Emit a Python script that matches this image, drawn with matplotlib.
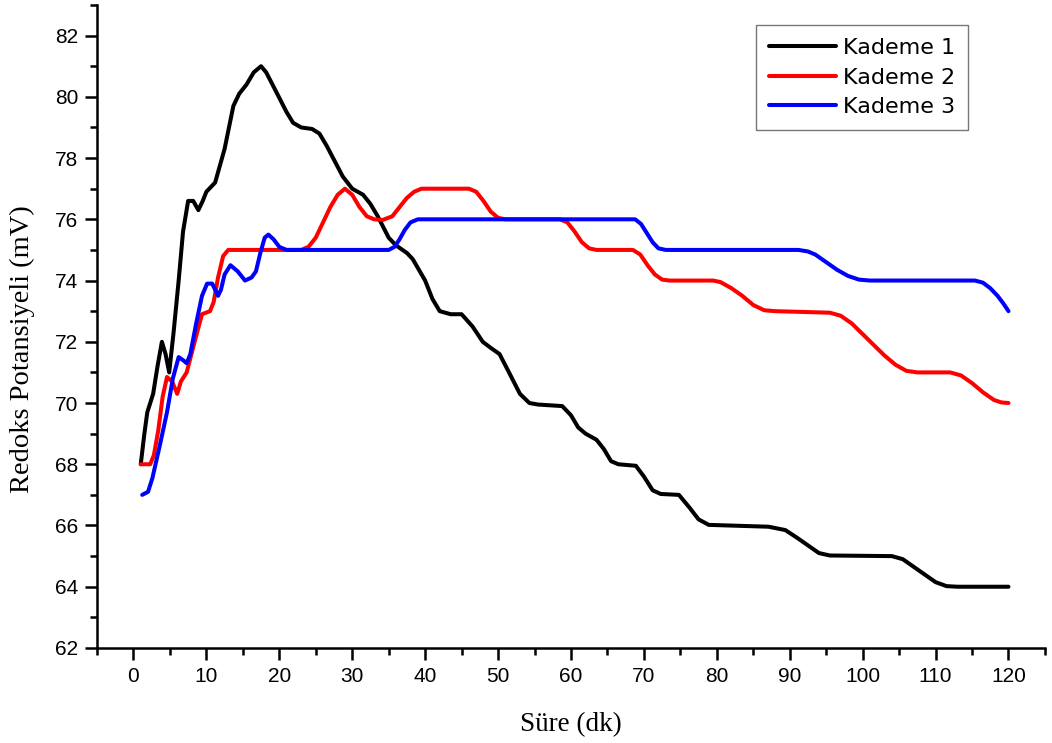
import matplotlib
matplotlib.use('Agg')
import matplotlib.pyplot as plt
from matplotlib.ticker import MultipleLocator

# Kademe 1 (black)
t1 = [1, 1.5, 1.9, 2.7, 3.3, 3.9, 4.4, 4.9, 5.5, 6.2, 6.8, 7.5, 8.2, 8.9, 9.5, 10, 11.2, 12.5, 13.7, 14.5,
      15.5, 16.5, 17.5, 18.2, 19.5, 21, 21.9, 23, 24.5, 25.5, 26.5, 28.7, 30, 31.5, 32.5, 33.5, 35, 36,
      37.5, 38.3, 40, 41, 42, 43.5, 45, 46.5, 47.9, 49, 50.2, 51.5, 53, 54.3, 55.5, 58.8, 60, 61, 62,
      63.5, 64.5, 65.5, 66.5, 68.9, 70, 71.2, 72.3, 74.8, 76.2, 77.5, 78.9, 87.1, 89.4, 91, 92.5, 94,
      95.5, 104, 105.5, 107, 108.5, 110, 111.5, 113, 120]
y1 = [68.0, 69.0, 69.7, 70.3, 71.2, 72.0, 71.6, 71.0, 72.3, 74.0, 75.6, 76.6, 76.6, 76.3, 76.6, 76.9, 77.2,
      78.3, 79.7, 80.1, 80.4, 80.8, 81.0, 80.8, 80.2, 79.5, 79.15, 79.0, 78.95, 78.8, 78.4, 77.4, 77.0,
      76.8, 76.5, 76.1, 75.4, 75.15, 74.9, 74.7, 74.0, 73.4, 73.0, 72.9, 72.9, 72.5, 72.0, 71.8, 71.6,
      71.0, 70.3, 70.0, 69.95, 69.9, 69.6, 69.2, 69.0, 68.8, 68.5, 68.1, 68.0, 67.95, 67.6, 67.15, 67.03,
      67.0, 66.6, 66.2, 66.02, 65.96, 65.85, 65.6, 65.35, 65.1, 65.02, 65.0, 64.9, 64.65, 64.4, 64.15,
      64.02, 64.0, 64.0]

# Kademe 2 (red)
t2 = [1, 2.3, 2.8, 3.4, 4, 4.6, 5.3, 6, 6.5, 7.3, 8.5, 9.4, 10.5, 11, 11.6, 12.3, 13, 23, 24, 25, 26,
      27, 28, 29, 30, 31, 32, 33, 34.2, 35.5, 36.5, 37.5, 38.5, 39.5, 46, 47, 48, 49, 50, 51, 58.5,
      59.5, 60.5, 61.5, 62.5, 63.5, 68.5, 69.5, 70.5, 71.5, 72.5, 73.5, 79.5, 80.5, 82, 83.5, 85, 86.5,
      88, 95.5, 97, 98.5, 100, 101.5, 103, 104.5, 106, 107.5, 112, 113.5, 115, 116.5, 118, 119, 120]
y2 = [68.0, 68.0, 68.3, 69.1, 70.2, 70.85, 70.7, 70.3, 70.7, 71.0, 72.1, 72.9, 73.0, 73.3, 74.1, 74.8,
      75.0, 75.0, 75.1, 75.4, 75.9, 76.4, 76.8, 77.0, 76.8, 76.4, 76.1, 76.0, 75.98, 76.1, 76.4, 76.7,
      76.9, 77.0, 77.0, 76.9, 76.6, 76.25, 76.05, 76.0, 76.0, 75.9, 75.6, 75.25, 75.05, 75.0, 75.0,
      74.85, 74.5, 74.2, 74.03, 74.0, 74.0, 73.95, 73.75, 73.5, 73.2, 73.03, 73.0, 72.95, 72.85, 72.6,
      72.25, 71.9, 71.55, 71.25, 71.05, 71.0, 71.0, 70.9, 70.65, 70.35, 70.1, 70.02, 70.0]

# Kademe 3 (blue)
t3 = [1.2, 2.0, 2.6, 3.6, 4.6, 5.4, 6.2, 6.8, 7.3, 7.8, 8.6, 9.4, 10.1, 10.8, 11.2, 11.6, 12.0, 12.5,
      13.3, 14.3, 15.3, 16.2, 16.8, 17.4, 18.0, 18.5, 19.2, 20, 21, 35, 35.8, 36.5, 37.2, 38, 39, 68.8,
      69.6, 70.4, 71.2, 72, 73, 91.2, 92.5, 93.5, 95, 96.5, 98, 99.5, 101, 115.4, 116.5, 117.5, 118.5,
      119.3, 120]
y3 = [67.0, 67.1, 67.55, 68.6, 69.7, 70.8, 71.5, 71.4, 71.3, 71.6, 72.6, 73.5, 73.9, 73.9, 73.7, 73.5,
      73.7, 74.2, 74.5, 74.3, 74.0, 74.1, 74.3, 74.9, 75.4, 75.5, 75.35, 75.1, 75.0, 75.0, 75.1, 75.35,
      75.65, 75.9, 76.0, 76.0, 75.85, 75.55, 75.25, 75.05, 75.0, 75.0, 74.95, 74.85, 74.6, 74.35, 74.15,
      74.03, 74.0, 74.0, 73.93, 73.75, 73.5, 73.25, 73.0]

fig = plt.figure(figsize=(10.52, 7.43), dpi=100)
ax = fig.add_axes([0.0922, 0.1279, 0.9011, 0.8654])

style = dict(lw=2.9, solid_capstyle='round', solid_joinstyle='round')
ax.plot(t1, y1, color='black', label='Kademe 1', **style)
ax.plot(t2, y2, color='#ff0000', label='Kademe 2', **style)
ax.plot(t3, y3, color='#0000ff', label='Kademe 3', **style)

ax.set_xlim(-5, 125)
ax.set_ylim(62, 83)
ax.xaxis.set_major_locator(MultipleLocator(10))
ax.xaxis.set_minor_locator(MultipleLocator(5))
ax.yaxis.set_major_locator(MultipleLocator(2))
ax.yaxis.set_minor_locator(MultipleLocator(1))

for s in ['top', 'right']:
    ax.spines[s].set_visible(False)
for s in ['left', 'bottom']:
    ax.spines[s].set_linewidth(1.8)

ax.tick_params(which='major', direction='out', length=8.5, width=1.8, labelsize=15, pad=5)
ax.tick_params(which='minor', direction='out', length=5, width=1.8)
for lab in ax.get_xticklabels() + ax.get_yticklabels():
    lab.set_family('Liberation Sans')

ax.set_xlabel('Süre (dk)', fontsize=19.5, family='Liberation Serif')
ax.set_ylabel('Redoks Potansiyeli (mV)', fontsize=20.5, family='Liberation Serif')
ax.xaxis.set_label_coords(0.5, -0.099)
ax.yaxis.set_label_coords(-0.0654, 0.465)

leg = ax.legend(loc='upper right', bbox_to_anchor=(0.919, 0.969), prop={'family': 'DejaVu Sans', 'size': 16},
                frameon=True, fancybox=False, handlelength=3.0, handletextpad=0.3, borderpad=0.6,
                labelspacing=0.42, borderaxespad=0)
leg.get_frame().set_edgecolor('#555555')
leg.get_frame().set_linewidth(1.0)

fig.savefig('out.png', dpi=100)
